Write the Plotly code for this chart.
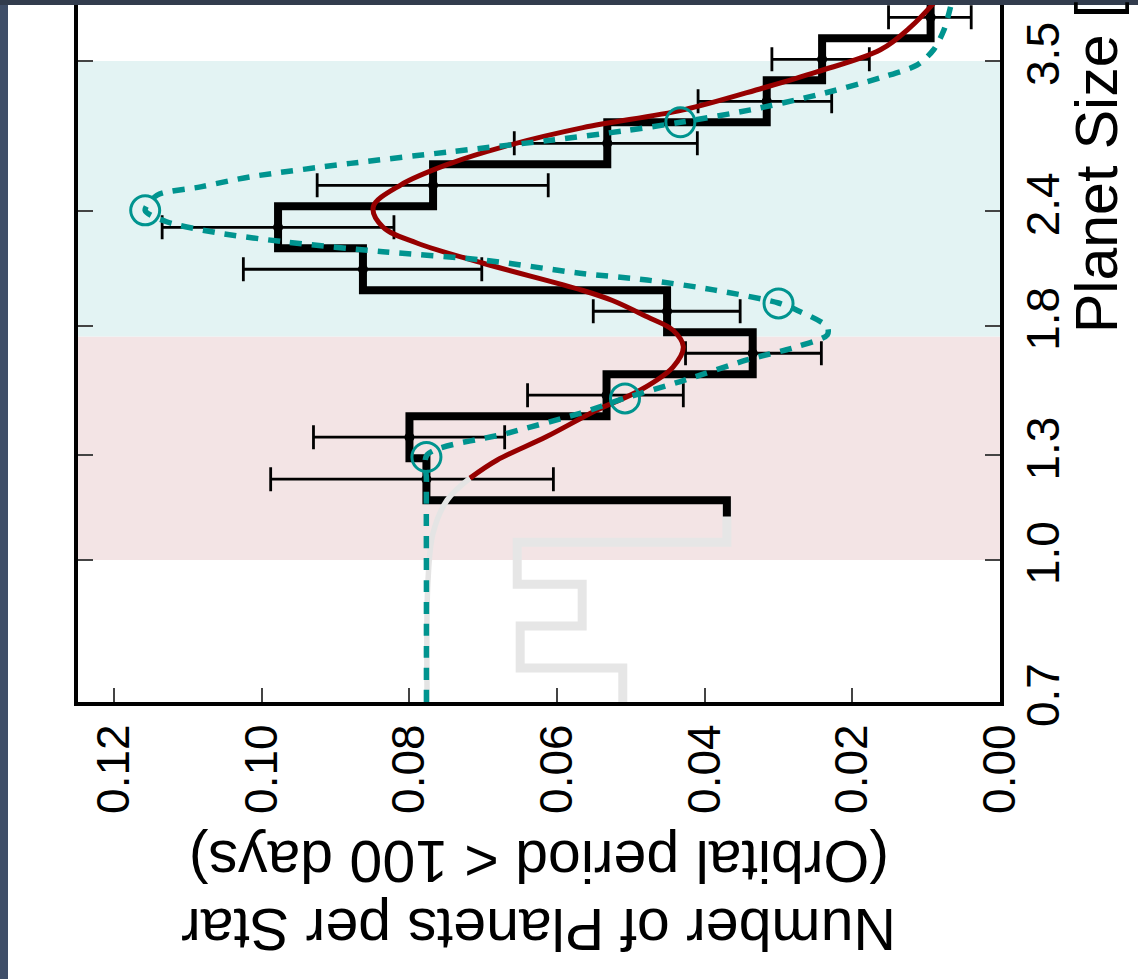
import math
import plotly.graph_objects as go

# ---------------- data ----------------
# planet-size bin edges (log-uniform bins)
size_edges = [0.6859, 0.7622, 0.8469, 0.9410, 1.0456, 1.1618, 1.2910, 1.4345,
              1.5939, 1.7711, 1.9680, 2.1867, 2.4297, 2.6998, 2.9999, 3.3333,
              3.7038, 4.1155]

# light-gray (incomplete) histogram: first five bins
gray_values = [0.0511, 0.0650, 0.0566, 0.0654, 0.0370]

# black histogram: bins from edge index 4 upward
black_values = [0.0370, 0.0777, 0.0800, 0.0533, 0.0335, 0.0451, 0.0863,
                0.0978, 0.0768, 0.0532, 0.0316, 0.0241, 0.0094]
black_start_size = 1.115

# error bars for bins with a point (edge index 5 upward)
err_upper = [0.0988, 0.0930, 0.0640, 0.0426, 0.0551, 0.1025, 0.1135, 0.0925,
             0.0658, 0.0409, 0.0309, 0.0151]
err_lower = [0.0605, 0.0671, 0.0429, 0.0242, 0.0352, 0.0702, 0.0821, 0.0612,
             0.0410, 0.0228, 0.0177, 0.0039]

# smooth fit (red, gray where extrapolated)
fit_size = [0.70, 0.944, 1.07, 1.162, 1.228, 1.285, 1.363, 1.457, 1.532, 1.623,
            1.708, 1.780, 1.841, 1.918, 1.968, 2.106, 2.216, 2.307, 2.426,
            2.563, 2.705, 2.821, 2.960, 3.095, 3.270, 3.405, 3.599, 3.812, 4.044]
fit_value = [0.0776, 0.0775, 0.0768, 0.0749, 0.0718, 0.0681, 0.0614, 0.0546,
             0.0487, 0.0443, 0.0429, 0.0443, 0.0478, 0.0525, 0.0566,
             0.0700, 0.0790, 0.0836, 0.0849, 0.0812, 0.0745, 0.0673, 0.0565,
             0.0429, 0.0321, 0.0248, 0.0162, 0.0121, 0.0090]
fit_split_size = 1.228

# teal dashed model
teal_size = [0.70, 0.944, 1.222, 1.302, 1.374, 1.445, 1.501, 1.565, 1.652, 1.708,
             1.759, 1.796, 1.872, 1.906, 1.970, 2.019, 2.054, 2.123, 2.168, 2.223,
             2.274, 2.337, 2.405, 2.498, 2.551, 2.616, 2.706, 2.786, 2.868, 2.936,
             3.000, 3.095, 3.213, 3.362, 3.465, 3.599, 3.782, 4.009]
teal_value = [0.0777, 0.0777, 0.0777, 0.0776, 0.0668, 0.0569, 0.0508, 0.0433,
              0.0343, 0.0275, 0.0234, 0.0234, 0.0275, 0.0300, 0.0388, 0.0478,
              0.0569, 0.0700, 0.0836, 0.0971, 0.1061, 0.1129, 0.1158, 0.1142,
              0.1083, 0.1016, 0.0880, 0.0745, 0.0609, 0.0510, 0.0433, 0.0338,
              0.0248, 0.0158, 0.0112, 0.0090, 0.0076, 0.0067]

# teal open circles
circle_size = [1.295, 1.500, 1.904, 2.405, 3.000]
circle_value = [0.0777, 0.0508, 0.0300, 0.1158, 0.0433]

# shaded bands (planet size)
pink_band = [1.0, 1.752]
teal_band = [1.752, 3.5]

x_ticks = [0.00, 0.02, 0.04, 0.06, 0.08, 0.10, 0.12]
y_ticks = [0.7, 1.0, 1.3, 1.8, 2.4, 3.5]

x_title_l1 = "Number of Planets per Star"
x_title_l2 = "(Orbital period < 100 days)"
y_title = "Planet Size [R<sub>⊕</sub>]"

# ---------------- figure ----------------
FONT = "Liberation Sans, Arial, Helvetica, sans-serif"
TEAL = "#00948f"
RED = "#960000"
W, H = 1138, 979
L, R, T, B = 78, 138, 0, 277
X_RANGE = [0.1249, 0.0]

fig = go.Figure()

# shaded bands as filled traces
for band, col in ((pink_band, "#f3e4e5"), (teal_band, "#e3f3f3")):
    fig.add_trace(go.Scatter(
        x=[X_RANGE[0], X_RANGE[1], X_RANGE[1], X_RANGE[0], X_RANGE[0]],
        y=[band[0], band[0], band[1], band[1], band[0]],
        mode="lines", fill="toself", fillcolor=col,
        line=dict(width=0, color=col), hoverinfo="skip"))

# gray histogram steps
gx, gy = [], []
for i, v in enumerate(gray_values):
    gx += [v, v]
    gy += [size_edges[i], size_edges[i + 1]]
fig.add_trace(go.Scatter(x=gx, y=gy, mode="lines",
                         line=dict(color="#e6e6e6", width=9), hoverinfo="skip"))

# black histogram steps
bx, by = [black_values[0]], [black_start_size]
for j, v in enumerate(black_values):
    i = j + 4
    if j == 0:
        bx.append(v); by.append(size_edges[i + 1])
    else:
        bx += [v, v]
        by += [size_edges[i], size_edges[i + 1]]
fig.add_trace(go.Scatter(x=bx, y=by, mode="lines",
                         line=dict(color="black", width=8), hoverinfo="skip"))

# points with error bars
pt_size, pt_val, e_plus, e_minus = [], [], [], []
for j in range(len(err_upper)):
    i = j + 5
    v = black_values[j + 1]
    pt_size.append(math.sqrt(size_edges[i] * size_edges[i + 1]))
    pt_val.append(v)
    e_plus.append(err_upper[j] - v)
    e_minus.append(v - err_lower[j])
fig.add_trace(go.Scatter(
    x=pt_val, y=pt_size, mode="markers",
    marker=dict(color="black", size=10),
    error_x=dict(type="data", symmetric=False, array=e_plus, arrayminus=e_minus,
                 color="black", thickness=2.8, width=12),
    hoverinfo="skip"))

# fit curve: gray extrapolated part + red part
lo_s = [s for s in fit_size if s <= fit_split_size]
lo_v = [v for s, v in zip(fit_size, fit_value) if s <= fit_split_size]
hi_s = [s for s in fit_size if s >= fit_split_size]
hi_v = [v for s, v in zip(fit_size, fit_value) if s >= fit_split_size]
fig.add_trace(go.Scatter(x=lo_v, y=lo_s, mode="lines",
                         line=dict(color="#e4e4e4", width=5.5, shape="spline", smoothing=1.0),
                         hoverinfo="skip"))
fig.add_trace(go.Scatter(x=hi_v, y=hi_s, mode="lines",
                         line=dict(color=RED, width=5, shape="spline", smoothing=1.0),
                         hoverinfo="skip"))

# teal dashed model
fig.add_trace(go.Scatter(x=teal_value, y=teal_size, mode="lines",
                         line=dict(color=TEAL, width=5.5, dash="12px,10px",
                                   shape="spline", smoothing=0.8),
                         hoverinfo="skip"))
fig.add_trace(go.Scatter(x=circle_value, y=circle_size, mode="markers",
                         marker=dict(symbol="circle-open", size=29, color=TEAL,
                                     line=dict(color=TEAL, width=3)),
                         hoverinfo="skip"))

pw = W - L - R
ph = H - T - B
def px(xp):
    return (xp - L) / pw
def py(yp):
    return (H - B - yp) / ph

# dark slide frame (top and left)
shapes = [
    dict(type="rect", xref="paper", yref="paper",
         x0=px(0), x1=px(8), y0=py(H), y1=py(0),
         fillcolor="#3f4e68", line=dict(width=0), layer="above"),
    dict(type="rect", xref="paper", yref="paper",
         x0=px(0), x1=px(W), y0=py(5), y1=py(0),
         fillcolor="#323c4d", line=dict(width=0), layer="above"),
]

annotations = [
    dict(text=x_title_l1, xref="paper", yref="paper", x=0.5, y=py(929),
         xanchor="center", yanchor="middle", textangle=180, showarrow=False,
         font=dict(family=FONT, size=59, color="black")),
    dict(text=x_title_l2, xref="paper", yref="paper", x=0.5, y=py(861),
         xanchor="center", yanchor="middle", textangle=180, showarrow=False,
         font=dict(family=FONT, size=59, color="black")),
    dict(text=y_title, xref="paper", yref="paper", x=px(1101), y=py(335),
         xanchor="center", yanchor="bottom", textangle=-90, showarrow=False,
         font=dict(family=FONT, size=59, color="black")),
]

fig.update_layout(
    width=W, height=H,
    margin=dict(l=L, r=R, t=T, b=B),
    paper_bgcolor="white", plot_bgcolor="white",
    showlegend=False,
    shapes=shapes, annotations=annotations,
    font=dict(family=FONT, color="black"),
    xaxis=dict(range=X_RANGE, tickvals=x_ticks,
               ticktext=["%.2f" % t for t in x_ticks], tickangle=-90,
               ticks="inside", ticklen=14, tickwidth=1.5, tickcolor="#444",
               showline=True, linewidth=4, linecolor="black", mirror=False,
               showgrid=False, zeroline=False, ticklabelstandoff=0,
               tickfont=dict(family=FONT, size=46, color="black")),
    yaxis=dict(type="log", range=[math.log10(0.7), math.log10(0.7) + 702 / 917.2],
               tickvals=y_ticks, ticktext=["%.1f" % t for t in y_ticks],
               side="right", tickangle=-90,
               ticks="inside", ticklen=15, tickwidth=1.5, tickcolor="#444",
               showline=True, linewidth=4, linecolor="black", mirror="ticks",
               showgrid=False, zeroline=False, ticklabelstandoff=0,
               tickfont=dict(family=FONT, size=46, color="black")),
)

fig.write_html("out.html")
